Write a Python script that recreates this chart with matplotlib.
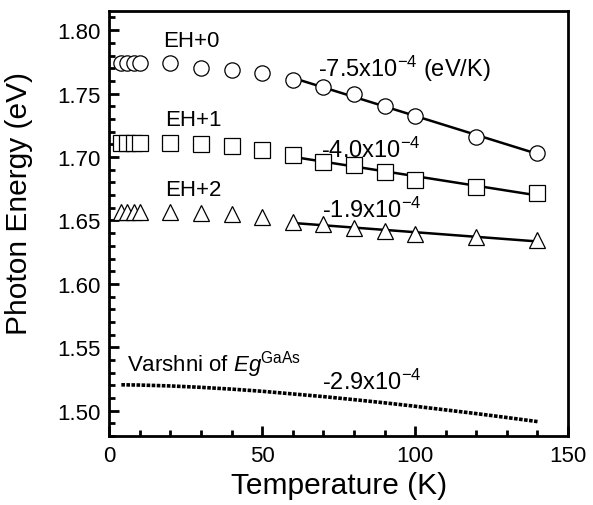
import numpy as np
import matplotlib.pyplot as plt

plt.rcParams['font.family'] = ['Liberation Sans', 'DejaVu Sans']
plt.rcParams['mathtext.fontset'] = 'custom'
plt.rcParams['mathtext.rm'] = 'Liberation Sans'
plt.rcParams['mathtext.it'] = 'Liberation Sans:italic'

# Temperatures (K) of the measured points
temp = [4, 6, 8, 10, 20, 30, 40, 50, 60, 70, 80, 90, 100, 120, 140]

# Peak energies (eV)
eh0 = [1.774, 1.774, 1.774, 1.774, 1.774, 1.770, 1.7686, 1.766, 1.7608,
       1.7555, 1.7495, 1.7403, 1.732, 1.7158, 1.7032]
eh1 = [1.711, 1.711, 1.711, 1.711, 1.711, 1.7105, 1.7084, 1.7058, 1.7019,
       1.6958, 1.6935, 1.6883, 1.6822, 1.6765, 1.6718]
eh2 = [1.6569, 1.6569, 1.6569, 1.6569, 1.657, 1.6561, 1.6553, 1.6527, 1.6487,
       1.6469, 1.6443, 1.6417, 1.6396, 1.6372, 1.6343]

# Varshni band gap of GaAs
t_var = [4, 10, 20, 30, 40, 50, 60, 70, 80, 90, 100, 110, 120, 130, 140]
eg_var = [1.5205, 1.5203, 1.5196, 1.5185, 1.5171, 1.5154, 1.5133, 1.5112,
          1.5088, 1.5063, 1.5036, 1.5007, 1.4978, 1.4947, 1.4915]

fit_from = 60

fig = plt.figure(figsize=(5.93, 5.06), dpi=100)
ax = fig.add_axes([0.184, 0.136, 0.774, 0.840])

t = np.array(temp)
mask = t >= fit_from
for data, mk, ms in [(eh0, 'o', 11), (eh1, 's', 11.5), (eh2, '^', 12)]:
    e = np.array(data)
    p = np.polyfit(t[mask], e[mask], 1)
    ax.plot(t[mask], np.polyval(p, t[mask]), color='black', lw=1.8, zorder=2)
    ax.plot(t, e, linestyle='none', marker=mk, ms=ms, mfc='white',
            mec='black', mew=0.9, zorder=3)

ax.plot(t_var, eg_var, color='black', lw=2.6, linestyle=(0, (1.0, 0.4)))

fs = 16
fs2 = 17
ax.text(17.6, 1.792, 'EH+0', fontsize=fs, va='center')
ax.text(68.3, 1.770, r'-7.5x10$^{-4}$ (eV/K)', fontsize=fs2, va='center')
ax.text(18.3, 1.7293, 'EH+1', fontsize=fs, va='center')
ax.text(69.2, 1.7065, r'-4.0x10$^{-4}$', fontsize=fs2, va='center')
ax.text(18.3, 1.6745, 'EH+2', fontsize=fs, va='center')
ax.text(69.5, 1.6592, r'-1.9x10$^{-4}$', fontsize=fs2, va='center')
ax.text(5.8, 1.537, r'Varshni of $\it{Eg}$$^{\rm GaAs}$', fontsize=fs, va='center')
ax.text(69.6, 1.5235, r'-2.9x10$^{-4}$', fontsize=fs2, va='center')

ax.set_xlim(0, 150)
ax.set_ylim(1.48, 1.815)
ax.set_xticks([0, 50, 100, 150])
ax.set_xticks(np.arange(0, 151, 10), minor=True)
ax.set_yticks([1.50, 1.55, 1.60, 1.65, 1.70, 1.75, 1.80])
ax.set_yticks(np.arange(1.48, 1.815, 0.01), minor=True)
ax.yaxis.set_major_formatter(plt.FormatStrFormatter('%.2f'))
ax.tick_params(which='both', direction='in', top=False, right=False,
               labelsize=16, width=2)
ax.tick_params(which='major', length=7, pad=6)
ax.tick_params(which='minor', length=4)
for s in ax.spines.values():
    s.set_linewidth(2)

ax.set_xlabel('Temperature (K)', fontsize=21.5, labelpad=4)
ax.set_ylabel('Photon Energy (eV)', fontsize=21.5)
ax.yaxis.set_label_coords(-0.165, 0.55)

fig.savefig('out.png', dpi=100)
